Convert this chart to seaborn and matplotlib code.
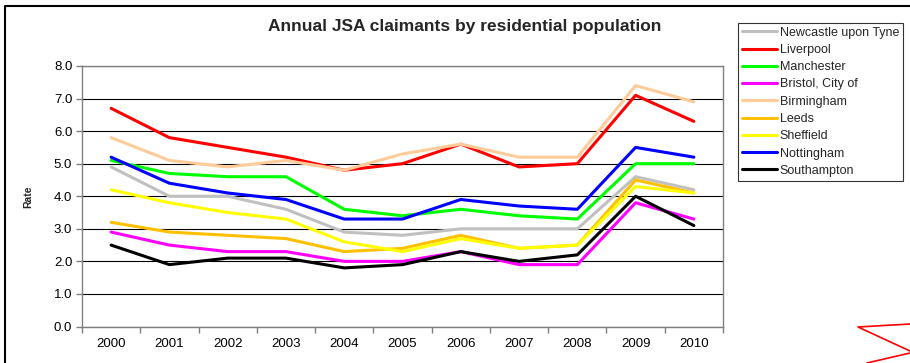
import matplotlib
matplotlib.use("Agg")
import matplotlib.pyplot as plt
from matplotlib.lines import Line2D
from matplotlib.ticker import FixedLocator, FormatStrFormatter, NullFormatter
import pandas as pd
import seaborn as sns

years = [2000, 2001, 2002, 2003, 2004, 2005, 2006, 2007, 2008, 2009, 2010]

newcastle = [4.9, 4.0, 4.0, 3.6, 2.9, 2.8, 3.0, 3.0, 3.0, 4.6, 4.2]
liverpool = [6.7, 5.8, 5.5, 5.2, 4.8, 5.0, 5.6, 4.9, 5.0, 7.1, 6.3]
manchester = [5.1, 4.7, 4.6, 4.6, 3.6, 3.4, 3.6, 3.4, 3.3, 5.0, 5.0]
bristol = [2.9, 2.5, 2.3, 2.3, 2.0, 2.0, 2.3, 1.9, 1.9, 3.8, 3.3]
birmingham = [5.8, 5.1, 4.9, 5.1, 4.8, 5.3, 5.6, 5.2, 5.2, 7.4, 6.9]
leeds = [3.2, 2.9, 2.8, 2.7, 2.3, 2.4, 2.8, 2.4, 2.5, 4.5, 4.1]
sheffield = [4.2, 3.8, 3.5, 3.3, 2.6, 2.3, 2.7, 2.4, 2.5, 4.3, 4.1]
nottingham = [5.2, 4.4, 4.1, 3.9, 3.3, 3.3, 3.9, 3.7, 3.6, 5.5, 5.2]
southampton = [2.5, 1.9, 2.1, 2.1, 1.8, 1.9, 2.3, 2.0, 2.2, 4.0, 3.1]

cities = ["Newcastle upon Tyne", "Liverpool", "Manchester", "Bristol, City of",
          "Birmingham", "Leeds", "Sheffield", "Nottingham", "Southampton"]
series = [newcastle, liverpool, manchester, bristol, birmingham, leeds,
          sheffield, nottingham, southampton]
colors = ["#C0C0C0", "#FF0000", "#00FF00", "#FF00FF", "#FFCC99",
          "#FFC000", "#FFFF00", "#0000FF", "#000000"]

rows = []
for city, vals in zip(cities, series):
    for y, v in zip(years, vals):
        rows.append({"Year": y, "Rate": v, "City": city})
df = pd.DataFrame(rows)

sns.set_style("white")
plt.rcParams["font.family"] = ["Liberation Sans", "DejaVu Sans"]

fig = plt.figure(figsize=(9.10, 3.63), dpi=100)
ax = fig.add_axes([82 / 910, 1 - 326.5 / 363, 641 / 910, 260.5 / 363])

sns.lineplot(data=df, x="Year", y="Rate", hue="City", hue_order=cities,
             palette=dict(zip(cities, colors)), linewidth=2.2, ax=ax,
             legend=False, sort=False)

ax.set_xlim(1999.5, 2010.5)
ax.set_ylim(0, 8)

# horizontal gridlines at each whole value
ax.yaxis.set_major_locator(FixedLocator(range(0, 9)))
ax.yaxis.set_major_formatter(FormatStrFormatter("%.1f"))
ax.grid(axis="y", color="#000000", linewidth=0.8)
ax.grid(axis="x", visible=False)
ax.set_axisbelow(True)

# category-style x axis: tick marks between years, labels centred on years
ax.xaxis.set_major_locator(FixedLocator([y - 0.5 for y in years] + [2010.5]))
ax.xaxis.set_major_formatter(NullFormatter())
ax.set_xticks(years, minor=True)
ax.set_xticklabels([str(y) for y in years], minor=True)
ax.tick_params(axis="x", which="major", direction="out", length=4, width=1,
               color="#808080", bottom=True)
ax.tick_params(axis="x", which="minor", length=0, pad=8, labelsize=9.5,
               labelcolor="#000000")
ax.tick_params(axis="y", which="major", direction="out", length=4, width=1,
               color="#808080", left=True, pad=3, labelsize=9.5,
               labelcolor="#000000")

for side in ["left", "bottom", "right", "top"]:
    ax.spines[side].set_visible(True)
    ax.spines[side].set_color("#808080")
    ax.spines[side].set_linewidth(1.0)

ax.set_xlabel("")
ax.set_ylabel("Rate", fontsize=7.5, fontweight="bold")
ax.yaxis.set_label_coords(-0.076, 0.5)

fig.text(465 / 910, 1 - 27 / 363, "Annual JSA claimants by residential population",
         ha="center", va="center", fontsize=12.5, fontweight="bold")

handles = [Line2D([0], [0], color=c, linewidth=2.2) for c in colors]
leg = fig.legend(handles, cities, loc="upper left",
                 bbox_to_anchor=(738 / 910, 1 - 23 / 363),
                 bbox_transform=fig.transFigure, fontsize=9, frameon=True,
                 fancybox=False, edgecolor="#000000", handlelength=2.8,
                 handletextpad=0.25, labelspacing=0.42, borderpad=0.3,
                 borderaxespad=0)
leg.get_frame().set_linewidth(0.8)

# outer chart frame (left and top edges)
fig.add_artist(Line2D([5 / 910, 5 / 910, 1.0], [0.0, 1 - 6 / 363, 1 - 6 / 363],
                      transform=fig.transFigure, color="#000000", linewidth=1.5))

# red shape in the lower right corner
fig.add_artist(Line2D([910 / 910, 858 / 910, 910 / 910],
                      [1 - 324 / 363, 1 - 327 / 363, 1 - 351 / 363],
                      transform=fig.transFigure, color="#FF0000", linewidth=1.2))
fig.add_artist(Line2D([910 / 910, 867 / 910],
                      [1 - 353 / 363, 1 - 363 / 363],
                      transform=fig.transFigure, color="#FF0000", linewidth=1.2))

fig.savefig("out.png", dpi=100)
